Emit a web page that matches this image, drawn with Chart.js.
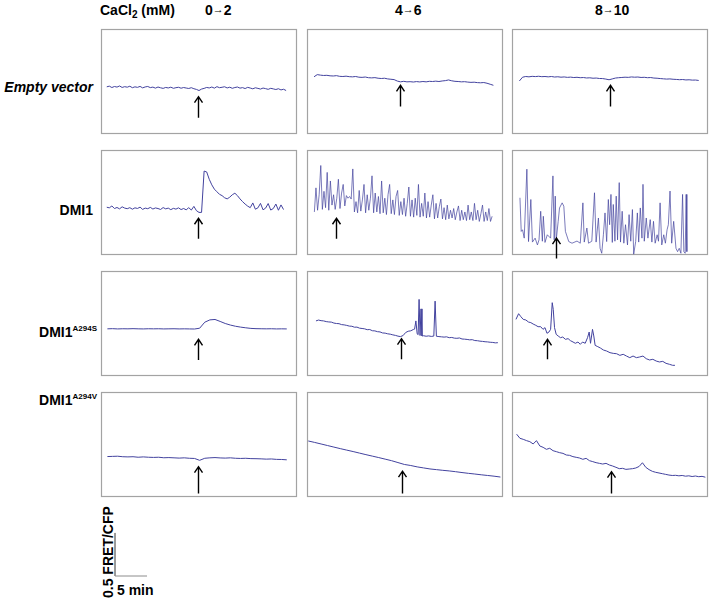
<!DOCTYPE html>
<html>
<head>
<meta charset="utf-8">
<script src="https://cdn.jsdelivr.net/npm/chart.js@4.4.1/dist/chart.umd.min.js"></script>
<style>
  body { margin: 0; background: #fff; }
  #page { position: relative; width: 711px; height: 602px; overflow: hidden;
          font-family: "Liberation Sans", Arial, sans-serif; font-weight: bold; color: #000; }
  #page canvas { position: absolute; }
  .txt { position: absolute; white-space: nowrap; line-height: 16px; }
  .head { font-size: 14px; top: 2px; }
  .row { font-size: 14px; text-align: right; right: 618px; }
  .row.mut { right: 614px; }
  .arr { font-size: 11px; position: relative; top: -2px; }
  sup { font-size: 8px; vertical-align: 6px; line-height: 0; }
  sub { font-size: 10px; vertical-align: -3px; line-height: 0; }
</style>
</head>
<body>
<div id="page">
  <div class="txt head" style="left:100px">CaCl<sub>2</sub> (mM)</div>
  <div class="txt head" style="left:205px">0<span class="arr">→</span>2</div>
  <div class="txt head" style="left:395px">4<span class="arr">→</span>6</div>
  <div class="txt head" style="left:595px">8<span class="arr">→</span>10</div>
  <div class="txt row" style="top:79px;font-style:italic">Empty vector</div>
  <div class="txt row" style="top:202px">DMI1</div>
  <div class="txt row mut" style="top:324px">DMI1<sup>A294S</sup></div>
  <div class="txt row mut" style="top:392px">DMI1<sup>A294V</sup></div>
  <div class="txt" style="left:100px;top:598px;font-size:14px;transform:rotate(-90deg);transform-origin:left top">0.5 FRET/CFP</div>
  <div class="txt" style="left:117px;top:582px;font-size:14px">5 min</div>
</div>
<script>
// one panel spans 30.6 min and 1.22 FRET/CFP units
const timeRange = [0, 30.6];
const ratioRange = [0, 1.22];
const scaleBar = { minutes: 5, ratio: 0.5 };

// Empty vector
const ev02 = [0.548,0.556,0.540,0.552,0.545,0.558,0.541,0.550,0.544,0.555,
  0.538,0.548,0.542,0.553,0.536,0.547,0.552,0.539,0.545,0.533,
  0.546,0.537,0.530,0.541,0.535,0.544,0.531,0.538,0.543,0.532,
  0.540,0.534,0.529,0.538,0.526,0.518,0.505,0.522,0.530,0.541,
  0.535,0.546,0.533,0.550,0.538,0.543,0.549,0.535,0.544,0.531,
  0.540,0.546,0.533,0.539,0.528,0.542,0.534,0.525,0.537,0.530,
  0.522,0.534,0.527,0.519,0.531,0.524,0.517,0.526,0.512,0.520,0.505];
const ev46 = [0.665,0.690,0.684,0.680,0.682,0.676,0.674,0.678,0.670,0.668,
  0.672,0.666,0.664,0.668,0.660,0.658,0.662,0.654,0.652,0.655,
  0.648,0.645,0.648,0.640,0.636,0.632,0.615,0.606,0.612,0.606,
  0.608,0.604,0.609,0.605,0.610,0.606,0.612,0.610,0.614,0.610,
  0.616,0.620,0.628,0.618,0.612,0.610,0.606,0.608,0.603,0.600,
  0.602,0.597,0.595,0.598,0.590,0.578,0.566];
const ev810 = [0.616,0.660,0.668,0.664,0.670,0.667,0.671,0.666,0.668,0.664,
  0.668,0.662,0.665,0.660,0.663,0.658,0.661,0.656,0.659,0.654,
  0.656,0.651,0.653,0.648,0.650,0.645,0.644,0.638,0.630,0.640,
  0.650,0.654,0.657,0.660,0.658,0.663,0.660,0.662,0.657,0.659,
  0.654,0.656,0.650,0.648,0.644,0.641,0.638,0.640,0.636,0.634,
  0.631,0.633,0.628,0.630,0.626,0.627,0.622];

// DMI1
const dmi02 = [0.555,0.548,0.570,0.540,0.552,0.536,0.560,0.545,0.538,0.550,
  0.532,0.548,0.541,0.556,0.530,0.545,0.538,0.553,0.534,0.547,
  0.540,0.529,0.551,0.536,0.545,0.527,0.542,0.533,0.548,0.528,
  0.540,0.525,0.550,0.522,0.565,0.515,0.495,0.495,0.975,0.965,
  0.880,0.815,0.765,0.735,0.705,0.690,0.665,0.652,0.672,0.700,
  0.718,0.690,0.652,0.620,0.592,0.568,0.550,0.605,0.532,0.548,
  0.600,0.525,0.545,0.598,0.522,0.540,0.592,0.520,0.582,0.528];
const dmi46 = [0.50,0.78,0.52,0.70,1.04,0.53,0.74,0.55,0.96,0.52,
  0.86,0.58,0.70,0.53,0.66,0.88,0.54,0.72,0.82,0.57,
  0.69,0.66,0.68,0.65,1.00,0.50,0.62,0.49,0.75,0.51,
  0.64,0.82,0.49,0.70,0.52,0.66,0.92,0.49,0.72,0.50,
  0.68,0.48,0.86,0.49,0.66,0.47,0.70,0.82,0.48,0.64,
  0.47,0.68,0.75,0.46,0.62,0.47,0.66,0.45,0.60,0.79,
  0.45,0.64,0.44,0.66,0.46,0.82,0.44,0.60,0.45,0.72,
  0.43,0.62,0.44,0.58,0.70,0.42,0.60,0.43,0.56,0.65,
  0.42,0.55,0.41,0.58,0.42,0.52,0.43,0.54,0.41,0.50,
  0.57,0.40,0.52,0.41,0.50,0.40,0.58,0.41,0.50,0.40,
  0.60,0.41,0.52,0.39,0.48,0.58,0.39,0.50,0.40,0.54,0.39,0.45];
const dmi810Times = [1.24,1.44,1.65,1.91,2.32,2.58,2.94,3.19,3.61,3.97,
  4.22,4.48,4.74,4.89,5.15,5.51,6.03,6.39,6.59,6.75,
  6.90,7.21,7.42,7.83,8.09,8.34,8.86,9.37,10.15,10.66,
  11.07,11.28,11.69,11.95,12.46,12.88,13.13,13.49,13.75,14.01,
  14.27,14.52,14.78,15.04,15.24,15.45,15.66,15.81,16.07,16.27,
  16.48,16.74,16.94,17.20,17.46,17.72,18.03,18.28,18.54,18.80,
  19.00,19.31,19.57,19.78,20.03,20.29,20.45,20.65,20.96,21.22,
  21.58,21.84,22.09,22.35,22.66,22.87,23.12,23.38,23.69,23.95,
  24.21,24.41,24.67,24.93,25.24,25.60,25.85,26.11,26.37,26.63,
  26.83,27.04,27.19,27.30];
const dmi810 = [0.665,0.274,0.293,0.196,0.997,0.156,0.645,0.150,0.196,0.117,
  0.176,0.508,0.160,0.450,0.146,0.235,0.196,0.919,0.176,0.684,
  0.170,0.391,0.547,0.606,0.567,0.274,0.156,0.137,0.162,0.137,
  0.606,0.150,0.313,0.137,0.160,0.723,0.150,0.430,0.078,0.020,
  0.235,0.489,0.156,0.645,0.352,0.704,0.146,0.587,0.160,0.684,
  0.176,0.841,0.150,0.508,0.137,0.352,0.117,0.469,0.160,0.528,
  0.010,0.156,0.489,0.150,0.547,0.196,0.821,0.160,0.430,0.196,
  0.411,0.150,0.391,0.137,0.235,0.160,0.606,0.117,0.235,0.137,
  0.293,0.352,0.743,0.137,0.391,0.078,0.039,0.078,0.020,0.704,
  0.039,0.020,0.704,0.039];

// DMI1 A294S
const s02 = [0.548,0.550,0.547,0.549,0.548,0.550,0.548,0.547,0.549,0.548,
  0.549,0.547,0.548,0.549,0.547,0.548,0.547,0.546,0.555,0.625,
  0.652,0.657,0.634,0.610,0.592,0.578,0.568,0.560,0.553,0.550,
  0.549,0.548,0.549,0.547,0.548,0.547];
const s46Times = [1.4,1.8,2.2,2.6,3.0,3.4,3.8,4.2,4.6,5.0,
  5.4,5.8,6.2,6.6,7.0,7.4,7.8,8.2,8.6,9.0,
  9.4,9.8,10.2,10.6,11.0,11.4,11.8,12.2,12.6,13.0,
  13.4,13.8,14.2,14.6,15.0,15.4,15.8,16.2,16.6,16.8,
  17.0,17.2,17.35,17.5,17.65,17.8,17.95,18.2,18.6,19.0,
  19.4,19.8,20.0,20.2,20.6,21.0,21.4,21.8,22.2,22.6,
  23.0,23.4,23.8,24.2,24.6,25.0,25.4,25.8,26.2,26.6,
  27.0,27.4,27.8,28.2,28.6,29.0,29.4,29.8];
const s46 = [0.640,0.650,0.643,0.640,0.632,0.628,0.626,0.615,0.610,0.608,
  0.597,0.594,0.588,0.580,0.578,0.567,0.568,0.556,0.552,0.548,
  0.538,0.540,0.526,0.524,0.515,0.512,0.500,0.498,0.490,0.486,
  0.478,0.472,0.463,0.458,0.470,0.505,0.520,0.525,0.540,0.545,
  0.640,0.490,0.480,0.890,0.470,0.780,0.465,0.468,0.462,0.466,
  0.460,0.464,0.870,0.462,0.458,0.455,0.452,0.455,0.445,0.448,
  0.440,0.438,0.442,0.430,0.428,0.425,0.420,0.422,0.412,0.410,
  0.405,0.402,0.398,0.396,0.392,0.390,0.385,0.387];
const s810Times = [0.62,1.03,1.39,1.75,2.16,2.58,2.94,3.30,3.71,4.07,
  4.48,4.84,5.15,5.46,5.77,6.03,6.28,6.44,6.64,6.90,
  7.21,7.57,7.93,8.34,8.76,9.12,9.53,9.89,10.30,10.66,
  11.02,11.43,11.79,12.05,12.26,12.57,12.77,12.98,13.39,13.80,
  14.27,14.78,15.30,15.81,16.33,16.84,17.36,17.87,18.39,18.90,
  19.42,19.93,20.45,20.96,21.48,21.99,22.51,23.02,23.54,24.05,
  24.57,25.08,25.44];
const s810 = [0.658,0.724,0.689,0.658,0.651,0.627,0.620,0.604,0.589,0.573,
  0.573,0.542,0.562,0.496,0.511,0.542,0.852,0.775,0.562,0.484,
  0.465,0.445,0.453,0.426,0.434,0.411,0.395,0.380,0.395,0.368,
  0.395,0.380,0.445,0.511,0.380,0.542,0.465,0.356,0.341,0.325,
  0.302,0.290,0.271,0.263,0.259,0.240,0.252,0.232,0.213,0.232,
  0.213,0.221,0.232,0.201,0.186,0.194,0.174,0.163,0.170,0.147,
  0.136,0.124,0.124];

// DMI1 A294V
const v02 = [0.470,0.472,0.474,0.468,0.466,0.468,0.462,0.466,0.462,0.460,
  0.462,0.456,0.458,0.455,0.452,0.455,0.450,0.448,0.426,0.450,
  0.455,0.458,0.454,0.452,0.455,0.450,0.448,0.450,0.446,0.445,
  0.443,0.440,0.442,0.437,0.436,0.432];
const v46 = [0.651,0.634,0.616,0.598,0.580,0.562,0.545,0.528,0.510,0.492,
  0.475,0.458,0.440,0.422,0.400,0.378,0.366,0.350,0.338,0.326,
  0.318,0.310,0.303,0.294,0.284,0.275,0.267,0.258,0.250,0.242,0.232];
const v810 = [0.730,0.682,0.670,0.655,0.643,0.616,0.655,0.593,0.577,0.554,
  0.566,0.538,0.527,0.515,0.507,0.488,0.484,0.469,0.461,0.453,
  0.438,0.449,0.422,0.411,0.399,0.391,0.383,0.391,0.372,0.360,
  0.345,0.329,0.333,0.321,0.325,0.329,0.337,0.355,0.398,0.345,
  0.318,0.298,0.287,0.279,0.271,0.263,0.255,0.250,0.252,0.246,
  0.250,0.242,0.246,0.238,0.244,0.236,0.240,0.230];

// CaCl2 addition (arrow): time, tip and tail in panel units
const stimTime = [[15.2, 14.5, 15.35], [15.1, 4.54, 6.80], [15.1, 14.7, 5.51], [15.1, 14.8, 15.46]];
const arrowTip = [[0.434, 0.565, 0.565], [0.427, 0.427, 0.196], [0.426, 0.434, 0.426], [0.352, 0.300, 0.294]];
const arrowTail = [[0.19, 0.32, 0.32], [0.19, 0.19, -0.04], [0.186, 0.194, 0.194], [0.04, 0.04, 0.04]];

const traces = [
  [{ t0: 0.9, dt: 0.4, values: ev02 }, { t0: 1.1, dt: 0.5, values: ev46 }, { t0: 1.15, dt: 0.5, values: ev810 }],
  [{ t0: 0.9, dt: 0.4, values: dmi02 }, { t0: 1.15, dt: 0.25, values: dmi46 }, { times: dmi810Times, values: dmi810 }],
  [{ t0: 1.0, dt: 0.8, values: s02 }, { times: s46Times, values: s46 }, { times: s810Times, values: s810 }],
  [{ t0: 1.0, dt: 0.8, values: v02 }, { t0: 0.2, dt: 1.0, values: v46 }, { t0: 0.72, dt: 0.517, values: v810 }]
];
// the two DMI1 traces with dense spikes are drawn thinner
const lineWidths = [[1, 1, 1], [1, 0.7, 0.7], [1, 1, 1], [1, 1, 1]];

// layout
const colLeft = [101, 307, 512];
const rowTop = [29, 150, 271, 392];
const panelW = 196, panelH = 105;
const pad = { left: 2, right: 2, top: 2, bottom: 26 };
const traceColor = '#42429e';

const framePlugin = {
  id: 'frame',
  beforeDatasetsDraw(chart, args, opts) {
    if (!opts.show) return;
    const a = chart.chartArea, ctx = chart.ctx;
    ctx.save();
    ctx.strokeStyle = '#a3a3a3';
    ctx.lineWidth = 1.2;
    ctx.strokeRect(a.left + 0.5, a.top + 0.5, a.right - a.left - 1, a.bottom - a.top - 1);
    ctx.restore();
  }
};

const arrowPlugin = {
  id: 'stimArrow',
  afterDatasetsDraw(chart, args, opts) {
    if (opts.t === undefined) return;
    const { ctx, scales: { x, y } } = chart;
    const px = Math.round(x.getPixelForValue(opts.t)) + 0.5;
    const y1 = y.getPixelForValue(opts.tip), y2 = y.getPixelForValue(opts.tail);
    ctx.save();
    ctx.strokeStyle = '#000';
    ctx.lineWidth = 1.4;
    ctx.beginPath();
    ctx.moveTo(px, y2);
    ctx.lineTo(px, y1);
    ctx.moveTo(px - 4, y1 + 6);
    ctx.lineTo(px, y1);
    ctx.lineTo(px + 4, y1 + 6);
    ctx.stroke();
    ctx.restore();
  }
};

function toPoints(tr) {
  return tr.values.map((v, i) => ({ x: tr.times ? tr.times[i] : tr.t0 + i * tr.dt, y: v }));
}

function makeCanvas(left, top, w, h) {
  const c = document.createElement('canvas');
  c.width = w; c.height = h;
  c.style.left = left + 'px';
  c.style.top = top + 'px';
  document.getElementById('page').appendChild(c);
  return c;
}

function panelOptions(arrow, frame) {
  return {
    responsive: false,
    animation: false,
    events: [],
    layout: { padding: pad },
    plugins: {
      legend: { display: false },
      tooltip: { enabled: false },
      frame: { show: frame },
      stimArrow: arrow
    },
    scales: {
      x: { type: 'linear', min: timeRange[0], max: timeRange[1], display: false },
      y: { type: 'linear', min: ratioRange[0], max: ratioRange[1], display: false }
    }
  };
}

traces.forEach((row, r) => {
  row.forEach((tr, c) => {
    const cv = makeCanvas(colLeft[c] - pad.left, rowTop[r] - pad.top,
      panelW + pad.left + pad.right, panelH + pad.top + pad.bottom);
    new Chart(cv, {
      type: 'line',
      data: {
        datasets: [{
          data: toPoints(tr),
          borderColor: traceColor,
          borderWidth: lineWidths[r][c],
          pointRadius: 0,
          tension: 0
        }]
      },
      options: panelOptions({ t: stimTime[r][c], tip: arrowTip[r][c], tail: arrowTail[r][c] }, true),
      plugins: [framePlugin, arrowPlugin]
    });
  });
});

// calibration bar, drawn with the same scales as the panels
const barLeft = 115, barBottom = 576;
const barCanvas = makeCanvas(barLeft - pad.left, barBottom - panelH - pad.top,
  panelW + pad.left + pad.right, panelH + pad.top + pad.bottom);
new Chart(barCanvas, {
  type: 'line',
  data: {
    datasets: [{
      data: [{ x: 0, y: scaleBar.ratio }, { x: 0, y: 0 }, { x: scaleBar.minutes, y: 0 }],
      borderColor: '#8c8c8c',
      borderWidth: 1,
      pointRadius: 0,
      tension: 0,
      clip: false
    }]
  },
  options: panelOptions({}, false),
  plugins: [framePlugin, arrowPlugin]
});
</script>
</body>
</html>
